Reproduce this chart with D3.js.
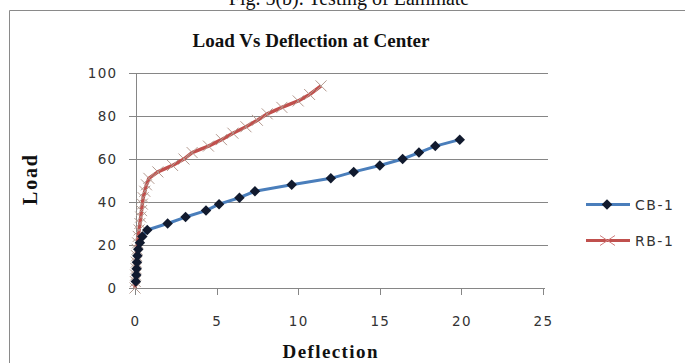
<!DOCTYPE html>
<html lang="en">
<head>
    <meta charset="UTF-8">
    <title>Load Vs Deflection at Center</title>
    <script src="https://cdn.jsdelivr.net/npm/d3@7/dist/d3.min.js"></script>
    <style>
        body { margin: 0; background: #fff; }
        svg text { font-family: "DejaVu Sans", Verdana, sans-serif; }
        svg .serif { font-family: "Liberation Serif", "Times New Roman", serif; font-weight: bold; fill: #111; }
        svg g.axis path, svg g.axis line { stroke: #868686; shape-rendering: crispEdges; }
        svg g.axis text { font-size: 13.5px; fill: #333; letter-spacing: 1.3px; }
    </style>
</head>
<body>
    <script>
        //width, height
        var w = 685;
        var h = 363;

        //data
        var cbDeflection = [0.05, 0.08, 0.1, 0.12, 0.15, 0.2, 0.3, 0.45, 0.75, 2.0, 3.1, 4.35, 5.15, 6.4, 7.35, 9.6, 12.0, 13.4, 15.0, 16.4, 17.4, 18.4, 19.9];
        var cbLoad = [3, 6, 9, 12, 15, 18, 21, 24, 27, 30, 33, 36, 39, 42, 45, 48, 51, 54, 57, 60, 63, 66, 69];
        var rbDeflection = [0, 0.02, 0.04, 0.06, 0.08, 0.1, 0.13, 0.16, 0.2, 0.25, 0.3, 0.35, 0.4, 0.45, 0.5, 0.6, 0.7, 0.85, 1.4, 2.3, 3.0, 3.5, 4.5, 5.3, 6.0, 6.8, 7.5, 8.1, 9.0, 10.0, 10.7, 11.4];
        var rbLoad = [0, 3, 6, 9, 12, 15, 18, 21, 24, 27, 30, 33, 36, 39, 42, 45, 48, 51, 54, 57, 60, 63, 66, 69, 72, 75, 78, 81, 84, 87, 90, 94];
        var xTicks = [0, 5, 10, 15, 20, 25];
        var yTicks = [0, 20, 40, 60, 80, 100];
        var seriesNames = ['CB-1', 'RB-1'];

        var cb = cbDeflection.map(function(d, i) { return [d, cbLoad[i]]; });
        var rb = rbDeflection.map(function(d, i) { return [d, rbLoad[i]]; });

        //scales
        var xScale = d3.scaleLinear().domain([0, 25]).range([135, 543]);
        var yScale = d3.scaleLinear().domain([0, 100]).range([288, 73]);

        var svg = d3.select('body')
                    .append('svg')
                    .attr('width', w)
                    .attr('height', h);

        //caption cut off at the top
        svg.append('text')
            .attr('class', 'serif')
            .attr('x', 349)
            .attr('y', 5)
            .attr('text-anchor', 'middle')
            .style('font-weight', 'normal')
            .style('font-size', '20px')
            .text('Fig. 5(b). Testing of Laminate');

        //chart frame
        svg.append('path')
            .attr('d', 'M9.5,' + h + 'V10.5H' + w)
            .attr('fill', 'none')
            .attr('stroke', '#8a8a8a');

        //gridlines
        svg.append('g')
            .selectAll('line')
            .data(yTicks.slice(1))
            .enter()
            .append('line')
            .attr('x1', 135)
            .attr('x2', 548)
            .attr('y1', function(d) { return yScale(d) + 0.5; })
            .attr('y2', function(d) { return yScale(d) + 0.5; })
            .attr('stroke', '#868686');

        //axes
        var xAxis = d3.axisBottom(xScale).tickValues(xTicks).tickSizeInner(6).tickSizeOuter(0).tickPadding(22);
        var yAxis = d3.axisLeft(yScale).tickValues(yTicks).tickSizeInner(7).tickSizeOuter(0).tickPadding(11);

        svg.append('g')
            .attr('class', 'axis')
            .attr('transform', 'translate(0,288.5)')
            .call(xAxis)
            .call(function(g) {
                g.select('.domain').attr('d', 'M135,0H545');
            });

        svg.append('g')
            .attr('class', 'axis')
            .attr('transform', 'translate(135.5,0)')
            .call(yAxis);

        var line = d3.line()
                    .x(function(d) { return xScale(d[0]); })
                    .y(function(d) { return yScale(d[1]); });

        //RB-1
        svg.append('path')
            .datum(rb)
            .attr('d', line)
            .attr('fill', 'none')
            .attr('stroke', '#c0504d')
            .attr('stroke-width', 3.5)
            .attr('stroke-linejoin', 'round');

        svg.append('g')
            .selectAll('path')
            .data(rb)
            .enter()
            .append('path')
            .attr('transform', function(d) { return 'translate(' + xScale(d[0]) + ',' + yScale(d[1]) + ')'; })
            .attr('d', 'M-5.5,-5.5L5.5,5.5M-5.5,5.5L5.5,-5.5')
            .attr('stroke', '#b39a90')
            .attr('stroke-width', 1);

        //CB-1
        svg.append('path')
            .datum(cb)
            .attr('d', line)
            .attr('fill', 'none')
            .attr('stroke', '#4a7ebb')
            .attr('stroke-width', 3)
            .attr('stroke-linejoin', 'round');

        var diamond = d3.symbol().type(d3.symbolDiamond2).size(70);
        svg.append('g')
            .selectAll('path')
            .data(cb)
            .enter()
            .append('path')
            .attr('transform', function(d) { return 'translate(' + xScale(d[0]) + ',' + yScale(d[1]) + ')'; })
            .attr('d', diamond)
            .attr('fill', '#111a2e');

        //titles
        svg.append('text')
            .attr('class', 'serif')
            .attr('x', 311)
            .attr('y', 47)
            .attr('text-anchor', 'middle')
            .attr('textLength', 237)
            .style('font-size', '19px')
            .text('Load Vs Deflection at Center');

        svg.append('text')
            .attr('class', 'serif')
            .attr('x', 330)
            .attr('y', 358)
            .attr('text-anchor', 'middle')
            .attr('textLength', 95)
            .style('font-size', '19px')
            .text('Deflection');

        svg.append('text')
            .attr('class', 'serif')
            .attr('transform', 'translate(37,180) rotate(-90)')
            .attr('text-anchor', 'middle')
            .attr('textLength', 50)
            .style('font-size', '20px')
            .text('Load');

        //legend
        var legend = svg.append('g')
                        .selectAll('g')
                        .data(seriesNames)
                        .enter()
                        .append('g')
                        .attr('transform', function(d, i) { return 'translate(586,' + (204.5 + i * 36) + ')'; });

        legend.append('line')
            .attr('x1', 0)
            .attr('x2', 44)
            .attr('stroke', function(d, i) { return i === 0 ? '#4a7ebb' : '#c0504d'; })
            .attr('stroke-width', 3);

        legend.filter(function(d, i) { return i === 0; })
            .append('path')
            .attr('transform', 'translate(21,0)')
            .attr('d', diamond)
            .attr('fill', '#111a2e');

        legend.filter(function(d, i) { return i === 1; })
            .append('path')
            .attr('d', 'M14,-5L29,5M14,5L29,-5')
            .attr('stroke', '#d08080')
            .attr('stroke-width', 1);

        legend.append('text')
            .attr('x', 49)
            .attr('y', 5)
            .style('font-size', '14px')
            .style('letter-spacing', '1.5px')
            .attr('fill', '#333')
            .text(function(d) { return d; });
    </script>
</body>
</html>
